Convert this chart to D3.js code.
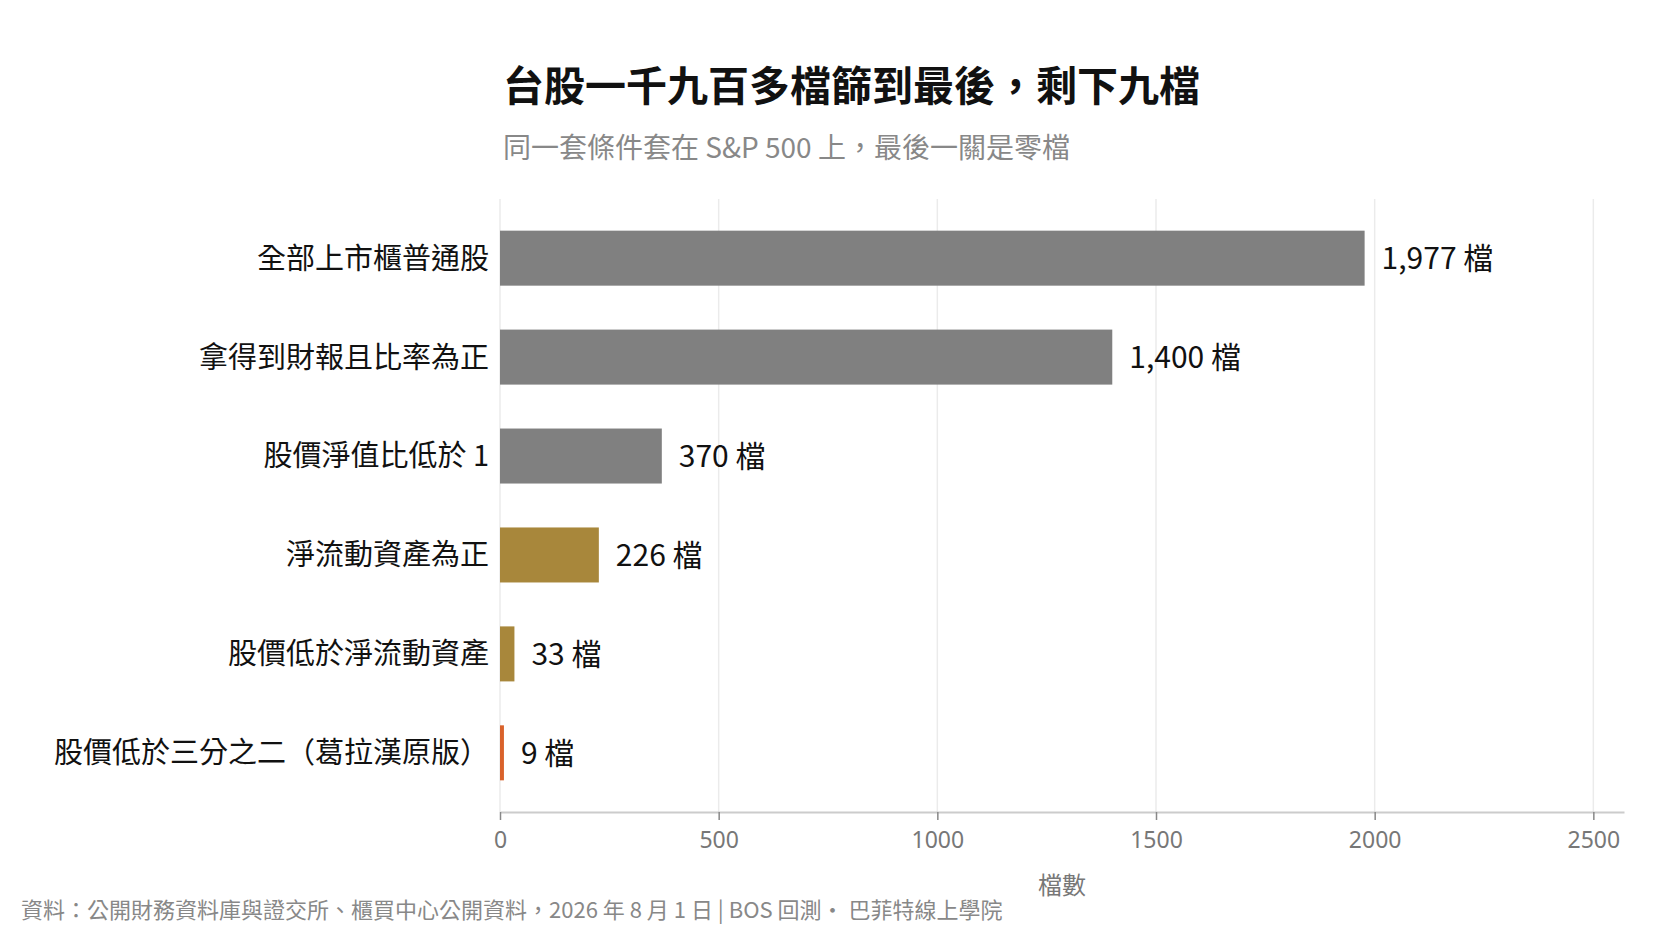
<!DOCTYPE html>
<html>
<head>
<meta charset="utf-8">
<script src="https://cdn.jsdelivr.net/npm/d3@7"></script>
<style>
  html, body { margin: 0; padding: 0; background: #fff; }
  svg { display: block; font-family: "Noto Sans CJK TC", "Noto Sans", sans-serif; }
</style>
</head>
<body>
<div id="chart"></div>
<script>
// screening steps, top to bottom
const categories = [
  "全部上市櫃普通股",
  "拿得到財報且比率為正",
  "股價淨值比低於 1",
  "淨流動資產為正",
  "股價低於淨流動資產",
  "股價低於三分之二（葛拉漢原版）",
];
const counts = [1977, 1400, 370, 226, 33, 9];
// 0 = gray, 1 = gold, 2 = final step
const colorGroup = [0, 0, 0, 1, 1, 2];
const xTicks = [0, 500, 1000, 1500, 2000, 2500];

const palette = ["#808080", "#a8873b", "#d9622b"];

const width = 1666;
const height = 951;
const marginTop = 199;
const marginRight = 42;
const marginBottom = 139;
const marginLeft = 500;

const svg = d3.create("svg").attr("width", width).attr("height", height);

// x scale, a bit of head room past the biggest bar
const x = d3
  .scaleLinear()
  .domain([0, d3.max(counts) * 1.3])
  .range([marginLeft, width - marginRight]);

const y = d3
  .scaleBand()
  .domain(categories)
  .range([marginTop, height - marginBottom])
  .paddingInner(0.444)
  .paddingOuter(0.32);

// vertical grid lines
svg
  .append("g")
  .selectAll("line")
  .data(xTicks)
  .join("line")
  .attr("x1", (d) => x(d))
  .attr("x2", (d) => x(d))
  .attr("y1", marginTop)
  .attr("y2", height - marginBottom)
  .attr("stroke", "#ebebeb")
  .attr("stroke-width", 1.5);

// bars
svg
  .append("g")
  .selectAll("rect")
  .data(categories)
  .join("rect")
  .attr("x", x(0))
  .attr("y", (d) => y(d))
  .attr("width", (d, i) => x(counts[i]) - x(0))
  .attr("height", y.bandwidth())
  .attr("fill", (d, i) => palette[colorGroup[i]]);

// value labels
svg
  .append("g")
  .selectAll("text")
  .data(categories)
  .join("text")
  .attr("x", (d, i) => x(counts[i]) + 17)
  .attr("y", (d) => y(d) + y.bandwidth() / 2)
  .attr("dy", "0.36em")
  .attr("font-size", 30)
  .attr("fill", "#111")
  .text((d, i) => `${d3.format(",")(counts[i])} 檔`);

// category labels
svg
  .append("g")
  .selectAll("text")
  .data(categories)
  .join("text")
  .attr("x", marginLeft - 11)
  .attr("y", (d) => y(d) + y.bandwidth() / 2)
  .attr("dy", "0.36em")
  .attr("text-anchor", "end")
  .attr("font-size", 29)
  .attr("fill", "#111")
  .text((d) => d);

// x axis
const xAxis = svg
  .append("g")
  .attr("transform", `translate(0,${height - marginBottom})`)
  .call(
    d3.axisBottom(x)
      .tickValues(xTicks)
      .tickFormat(d3.format("d"))
      .tickSize(8)
      .tickPadding(12)
      .tickSizeOuter(0),
  );

xAxis.select(".domain").attr("stroke", "#cccccc").attr("stroke-width", 2);
xAxis.selectAll(".tick line").attr("stroke", "#888").attr("stroke-width", 1.5);
xAxis
  .selectAll(".tick text")
  .attr("font-size", 23)
  .attr("fill", "#777")
  .attr("font-family", '"Noto Sans", sans-serif');

// axis title
svg
  .append("text")
  .attr("x", (x.range()[0] + x.range()[1]) / 2)
  .attr("y", 894)
  .attr("text-anchor", "middle")
  .attr("font-size", 24)
  .attr("fill", "#777")
  .text("檔數");

// title + subtitle
svg
  .append("text")
  .attr("x", 503)
  .attr("y", 101)
  .attr("font-size", 41)
  .attr("font-weight", 700)
  .attr("fill", "#111")
  .text("台股一千九百多檔篩到最後，剩下九檔");

svg
  .append("text")
  .attr("x", 503)
  .attr("y", 158)
  .attr("font-size", 28)
  .attr("fill", "#888")
  .text("同一套條件套在 S&P 500 上，最後一關是零檔");

// source line
svg
  .append("text")
  .attr("x", 21)
  .attr("y", 918)
  .attr("font-size", 22)
  .attr("fill", "#888")
  .text("資料：公開財務資料庫與證交所、櫃買中心公開資料，2026 年 8 月 1 日 | BOS 回測· 巴菲特線上學院");

document.getElementById("chart").append(svg.node());
</script>
</body>
</html>
